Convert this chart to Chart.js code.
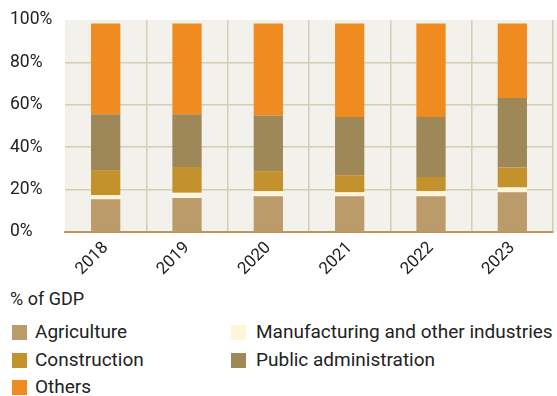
<!DOCTYPE html>
<html>
<head>
<meta charset="utf-8">
<script src="https://cdn.jsdelivr.net/npm/chart.js@4/dist/chart.umd.min.js"></script>
<style>
  html, body { margin: 0; padding: 0; background: #ffffff; }
  #wrap { position: relative; width: 557px; height: 396px; overflow: hidden; }
  #chart { position: absolute; left: 0; top: 0; }
  #legend { position: absolute; left: 0; top: 286px; width: 557px;
    font-family: Roboto, "Liberation Sans", sans-serif; font-size: 19px; color: #222; }
  #legend .title { position: absolute; left: 10px; top: 2px; white-space: nowrap; font-size: 18px; }
  #legend .item { position: absolute; white-space: nowrap; line-height: 22px; }
  #legend .box { position: absolute; left: 0; top: 4px; width: 15px; height: 15px; }
  #legend .lbl { position: absolute; top: 0; }
</style>
</head>
<body>
<div id="wrap">
  <canvas id="chart" width="557" height="280"></canvas>
  <div id="legend"></div>
</div>
<script>
// Sector shares of GDP, in percent
const years = ["2018", "2019", "2020", "2021", "2022", "2023"];
const agriculture    = [15.5, 16.0, 16.9, 16.9, 16.9, 18.8];
const manufacturing  = [1.9, 2.5, 2.4, 1.8, 2.4, 2.2];
const construction   = [11.8, 12.2, 9.4, 8.1, 6.7, 9.4];
const publicAdmin    = [26.3, 24.8, 26.2, 27.5, 28.3, 32.8];
const others         = [42.9, 42.9, 43.5, 44.1, 44.1, 35.2];
const yTicks = [0, 20, 40, 60, 80, 100];

const seriesNames = ["Agriculture", "Manufacturing and other industries", "Construction", "Public administration", "Others"];
const seriesData = [agriculture, manufacturing, construction, publicAdmin, others];
const seriesColors = ["#BC9B6B", "#FFF5DA", "#C4922C", "#9F8858", "#F08B1F"];

const FONT = "Roboto, 'Liberation Sans', sans-serif";

const plotBackground = {
  id: "plotBackground",
  beforeDraw(chart) {
    const { ctx, chartArea: a } = chart;
    ctx.save();
    ctx.fillStyle = "#F3F1EC";
    ctx.fillRect(a.left, a.top, chart.width - a.left, a.bottom - a.top);
    ctx.restore();
  }
};

new Chart(document.getElementById("chart"), {
  type: "bar",
  data: {
    labels: years,
    datasets: seriesNames.map((name, i) => ({
      label: name,
      data: seriesData[i],
      backgroundColor: seriesColors[i],
      borderWidth: 0,
      barPercentage: 0.36,
      categoryPercentage: 1.0
    }))
  },
  options: {
    responsive: false,
    animation: false,
    layout: { padding: { top: 20, left: 10, right: 4, bottom: 0 } },
    plugins: { legend: { display: false }, tooltip: { enabled: false } },
    scales: {
      x: {
        stacked: true,
        grid: {
          offset: true,
          drawTicks: false,
          lineWidth: 1.5,
          color: (c) => (c.index === 0 || c.index === years.length) ? "rgba(0,0,0,0)" : "#D7CCB4"
        },
        border: { display: true, color: "#B89A5E", width: 2 },
        ticks: {
          minRotation: 45, maxRotation: 45,
          padding: 6,
          color: "#222",
          font: { family: FONT, size: 17 }
        },
        afterFit(scale) { scale.height = 48; }
      },
      y: {
        stacked: true,
        min: 0, max: 100,
        afterBuildTicks(scale) { scale.ticks = yTicks.map(v => ({ value: v })); },
        grid: {
          drawTicks: false,
          lineWidth: 1.5,
          color: (c) => (c.tick && (c.tick.value === 0 || c.tick.value === 100)) ? "rgba(0,0,0,0)" : "#D7CCB4"
        },
        border: { display: false },
        ticks: {
          crossAlign: "far",
          color: "#222",
          font: { family: FONT, size: 17.5 },
          callback: (v) => v + "%"
        },
        afterFit(scale) { scale.width = 55; }
      }
    }
  },
  plugins: [plotBackground]
});

// Legend, laid out in two columns below the chart
const legend = document.getElementById("legend");
const title = document.createElement("div");
title.className = "title";
title.textContent = "% of GDP";
legend.appendChild(title);
const positions = [
  [12, 35], [231, 35],
  [12, 63], [231, 63],
  [12, 90]
];
seriesNames.forEach((name, si) => {
  const item = document.createElement("div");
  item.className = "item";
  item.style.left = positions[si][0] + "px";
  item.style.top = positions[si][1] + "px";
  const box = document.createElement("span");
  box.className = "box";
  box.style.background = seriesColors[si];
  const lbl = document.createElement("span");
  lbl.className = "lbl";
  lbl.style.left = (positions[si][0] === 12 ? 23 : 25) + "px";
  lbl.textContent = name;
  item.appendChild(box);
  item.appendChild(lbl);
  legend.appendChild(item);
});
</script>
</body>
</html>
